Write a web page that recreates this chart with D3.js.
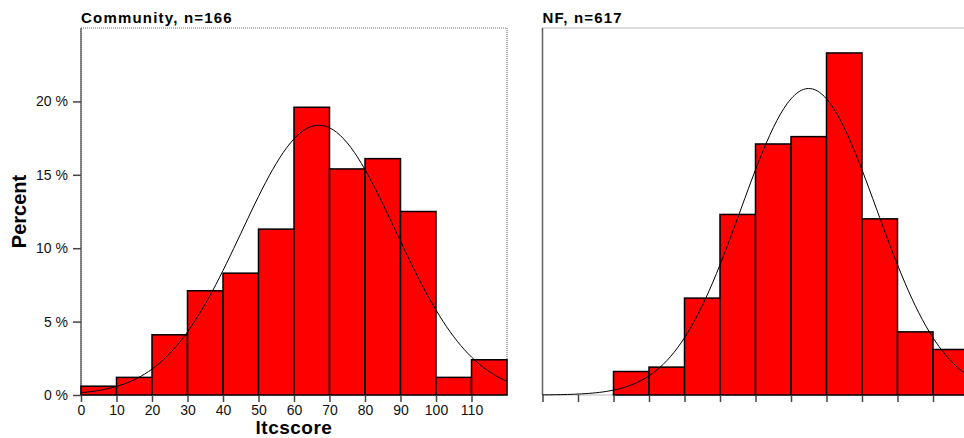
<!DOCTYPE html>
<html>
<head>
<meta charset="utf-8">
<script src="https://cdn.jsdelivr.net/npm/d3@7"></script>
<style>
  body { margin: 0; background: #fff; }
  text { font-family: "Liberation Sans", Arial, sans-serif; }
</style>
</head>
<body>
<svg id="chart"></svg>
<script>
// bins of ltcscore (lower edges), width 10
const binStarts = [0, 10, 20, 30, 40, 50, 60, 70, 80, 90, 100, 110];
const binWidth = 10;
const xTicks = [0, 10, 20, 30, 40, 50, 60, 70, 80, 90, 100, 110];
const yTicks = [0, 5, 10, 15, 20];

// percent per bin
const communityPct = [0.6, 1.2, 4.1, 7.1, 8.3, 11.3, 19.6, 15.4, 16.1, 12.5, 1.2, 2.4];
const nfPct = [0, 0, 1.6, 1.9, 6.6, 12.3, 17.1, 17.6, 23.3, 12.0, 4.3, 3.1];

// fitted normal curves (mean, sd)
const communityFit = { mean: 67, sd: 21.7 };
const nfFit = { mean: 75, sd: 19.1 };

const width = 964, height = 438;
const plotTop = 28, plotBottom = 395;

const svg = d3.select('#chart')
    .attr('width', width)
    .attr('height', height);

const y = d3.scaleLinear()
    .domain([0, 25])
    .range([plotBottom, plotTop]);

function drawPanel(cfg) {
    const x = d3.scaleLinear()
        .domain([0, 120])
        .range([cfg.left, cfg.left + 426]);

    const g = svg.append('g');

    // frame
    g.append('rect')
        .attr('x', cfg.left)
        .attr('y', plotTop)
        .attr('width', 426)
        .attr('height', plotBottom - plotTop)
        .attr('fill', 'none')
        .attr('stroke', '#777')
        .attr('stroke-width', 1.2)
        .attr('stroke-dasharray', '1,1');

    g.append('line')
        .attr('x1', cfg.left).attr('x2', cfg.left)
        .attr('y1', plotTop).attr('y2', plotBottom)
        .attr('stroke', '#666')
        .attr('stroke-width', 1.5);

    // bars
    g.selectAll('rect.bar')
        .data(binStarts.map((b, i) => ({ b: b, v: cfg.values[i] })).filter(d => d.v > 0))
        .enter()
        .append('rect')
        .attr('class', 'bar')
        .attr('x', d => x(d.b))
        .attr('y', d => y(d.v))
        .attr('width', d => x(d.b + binWidth) - x(d.b))
        .attr('height', d => y(0) - y(d.v))
        .attr('fill', '#ff0000')
        .attr('stroke', '#000')
        .attr('stroke-width', 1.5);

    // normal curve scaled to percent per bin
    const fit = cfg.fit;
    const dens = v => 100 * binWidth / (fit.sd * Math.sqrt(2 * Math.PI))
        * Math.exp(-0.5 * Math.pow((v - fit.mean) / fit.sd, 2));
    const line = d3.line()
        .x(d => x(d))
        .y(d => y(dens(d)))
        .curve(d3.curveBasis);

    g.append('path')
        .datum(d3.range(0, 120.5, 1))
        .attr('d', line)
        .attr('fill', 'none')
        .attr('stroke', '#000')
        .attr('stroke-width', 1);

    // x axis
    const xAxis = d3.axisBottom(x)
        .tickValues(xTicks)
        .tickSize(7)
        .tickFormat(cfg.labels ? d3.format('d') : '');

    const ax = g.append('g')
        .attr('transform', `translate(0, ${plotBottom})`)
        .call(xAxis);
    ax.select('.domain').remove();
    ax.selectAll('line').attr('stroke', '#444').attr('stroke-width', 1.5);
    ax.selectAll('text')
        .attr('fill', '#111')
        .attr('dy', null)
        .attr('y', 20)
        .style('font-size', '14px');

    if (cfg.labels) {
        const ay = g.append('g')
            .attr('transform', `translate(${cfg.left}, 0)`)
            .call(d3.axisLeft(y)
                .tickValues(yTicks)
                .tickSize(8)
                .tickFormat(d => d + ' %'));
        ay.select('.domain').remove();
        ay.selectAll('line').attr('stroke', '#444').attr('stroke-width', 1.5);
        ay.selectAll('text')
            .attr('fill', '#111')
            .attr('x', -13)
            .style('font-size', '14px');

        g.append('text')
            .attr('x', (x.range()[0] + x.range()[1]) / 2)
            .attr('y', 434)
            .attr('text-anchor', 'middle')
            .style('font-size', '19px')
            .style('font-weight', 'bold')
            .style('letter-spacing', '0.5px')
            .text('ltcscore');

        g.append('text')
            .attr('transform', `translate(26, ${(plotTop + plotBottom) / 2}) rotate(-90)`)
            .attr('text-anchor', 'middle')
            .style('font-size', '20px')
            .style('font-weight', 'bold')
            .text('Percent');
    }

    // panel title
    g.append('text')
        .attr('x', cfg.left)
        .attr('y', 23)
        .style('font-size', '15px')
        .style('font-weight', 'bold')
        .style('letter-spacing', '1.2px')
        .text(cfg.title);
}

drawPanel({ left: 81, values: communityPct, fit: communityFit, labels: true, title: 'Community, n=166' });
drawPanel({ left: 542.5, values: nfPct, fit: nfFit, labels: false, title: 'NF, n=617' });
</script>
</body>
</html>
